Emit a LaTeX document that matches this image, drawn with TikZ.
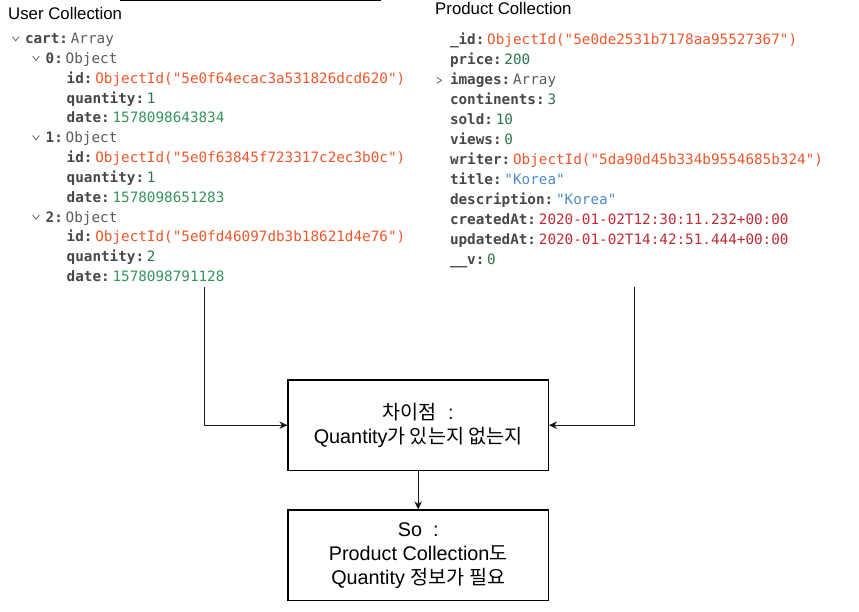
\documentclass[tikz,border=0pt]{standalone}
\usepackage{fontspec}
\setmainfont{Liberation Sans}
\setmonofont{DejaVu Sans Mono}
\newfontfamily\krfont{Noto Sans CJK KR}[Scale=0.99]
\usetikzlibrary{arrows.meta}
\definecolor{keyc}{HTML}{474747}
\definecolor{typec}{HTML}{5A5A5A}
\definecolor{oidc}{HTML}{F0562A}
\definecolor{intc}{HTML}{2A764A}
\definecolor{longc}{HTML}{33955B}
\definecolor{datec}{HTML}{C02A34}
\definecolor{strc}{HTML}{4D8CC8}
\definecolor{chevc}{HTML}{666666}
\newcommand\mkv[3]{{\bfseries\color{keyc}#1}\hspace{2.8pt}{\color{#2}#3}}
\tikzset{
  code/.style={anchor=base west, inner sep=0pt, outer sep=0pt,
    font=\ttfamily\fontsize{14.3}{16}\selectfont},
  title/.style={anchor=base west, inner sep=0pt, font=\fontsize{16.8}{19}\selectfont},
  chev/.style={draw=chevc, line width=0.8pt, line join=round},
  box/.style={draw=black, line width=1.2pt, minimum width=260.3pt, minimum height=90.3pt,
    inner sep=0pt, align=center},
  conn/.style={draw=black!90, line width=1pt, -{Stealth[length=8pt,width=7.5pt,inset=2.5pt]}}
}
\begin{document}
\begin{tikzpicture}[x=1pt,y=-1pt]
\useasboundingbox (0,0) rectangle (859,612);
% top cut line
\draw[line width=1.5pt] (120,0.6) -- (381,0.6);
% titles
\node[title] (usert) at (8,20) {User Collection};
\node[title] (prodt) at (435,15) {Product Collection};
% left document
\def\lb#1{43.5+#1*19.85}
\draw[chev] (12.4,{\lb{0}-7}) -- (15.7,{\lb{0}-2.6}) -- (19,{\lb{0}-7});
\node[code] (l0) at (25,{\lb{0}}) {\mkv{cart:}{typec}{Array}};
\draw[chev] (32.7,{\lb{1}-7.3}) -- (36,{\lb{1}-2.8}) -- (39.3,{\lb{1}-7.3});
\node[code] (l1) at (45.7,{\lb{1}}) {\mkv{0:}{typec}{Object}};
\node[code] (l2) at (66.7,{\lb{2}}) {\mkv{id:}{oidc}{ObjectId("5e0f64ecac3a531826dcd620")}};
\node[code] (l3) at (66.7,{\lb{3}}) {\mkv{quantity:}{intc}{1}};
\node[code] (l4) at (66.7,{\lb{4}}) {\mkv{date:}{longc}{1578098643834}};
\draw[chev] (32.7,{\lb{5}-7.3}) -- (36,{\lb{5}-2.8}) -- (39.3,{\lb{5}-7.3});
\node[code] (l5) at (45.7,{\lb{5}}) {\mkv{1:}{typec}{Object}};
\node[code] (l6) at (66.7,{\lb{6}}) {\mkv{id:}{oidc}{ObjectId("5e0f63845f723317c2ec3b0c")}};
\node[code] (l7) at (66.7,{\lb{7}}) {\mkv{quantity:}{intc}{1}};
\node[code] (l8) at (66.7,{\lb{8}}) {\mkv{date:}{longc}{1578098651283}};
\draw[chev] (32.7,{\lb{9}-7.3}) -- (36,{\lb{9}-2.8}) -- (39.3,{\lb{9}-7.3});
\node[code] (l9) at (45.7,{\lb{9}}) {\mkv{2:}{typec}{Object}};
\node[code] (l10) at (66.7,{\lb{10}}) {\mkv{id:}{oidc}{ObjectId("5e0fd46097db3b18621d4e76")}};
\node[code] (l11) at (66.7,{\lb{11}}) {\mkv{quantity:}{intc}{2}};
\node[code] (l12) at (66.7,{\lb{12}}) {\mkv{date:}{longc}{1578098791128}};
% right document
\def\rb#1{44.3+#1*20}
\node[code] (r0) at (450,{\rb{0}}) {\mkv{\_id:}{oidc}{ObjectId("5e0de2531b7178aa95527367")}};
\node[code] (r1) at (450,{\rb{1}}) {\mkv{price:}{intc}{200}};
\draw[chev] (436.8,{\rb{2}-7}) -- (441.5,{\rb{2}-4}) -- (436.8,{\rb{2}-1});
\node[code] (r2) at (450,{\rb{2}}) {\mkv{images:}{typec}{Array}};
\node[code] (r3) at (450,{\rb{3}}) {\mkv{continents:}{intc}{3}};
\node[code] (r4) at (450,{\rb{4}}) {\mkv{sold:}{intc}{10}};
\node[code] (r5) at (450,{\rb{5}}) {\mkv{views:}{intc}{0}};
\node[code] (r6) at (450,{\rb{6}}) {\mkv{writer:}{oidc}{ObjectId("5da90d45b334b9554685b324")}};
\node[code] (r7) at (450,{\rb{7}}) {\mkv{title:}{strc}{"Korea"}};
\node[code] (r8) at (450,{\rb{8}}) {\mkv{description:}{strc}{"Korea"}};
\node[code] (r9) at (450,{\rb{9}}) {\mkv{createdAt:}{datec}{2020-01-02T12:30:11.232+00:00}};
\node[code] (r10) at (450,{\rb{10}}) {\mkv{updatedAt:}{datec}{2020-01-02T14:42:51.444+00:00}};
\node[code] (r11) at (450,{\rb{11}}) {\mkv{\_\_v:}{intc}{0}};
% boxes
\node[box, font=\fontsize{19.8}{24.5}\selectfont] (diff) at (418.2,425.2)
  {{\krfont 차이점}\ \ :\\Quantity{\krfont 가 있는지 없는지}};
\node[box, font=\fontsize{19.8}{24}\selectfont] (so) at (418.2,555.2)
  {So\ \ :\\Product Collection{\krfont 도}\\Quantity {\krfont 정보가 필요}};
% connectors
\coordinate (ustart) at (204.3,287);
\coordinate (pstart) at (634.3,287);
\draw[conn] (ustart) |- (diff.west);
\draw[conn] (pstart) |- (diff.east);
\draw[conn] (diff.south) -- (so.north);
\end{tikzpicture}
\end{document}
